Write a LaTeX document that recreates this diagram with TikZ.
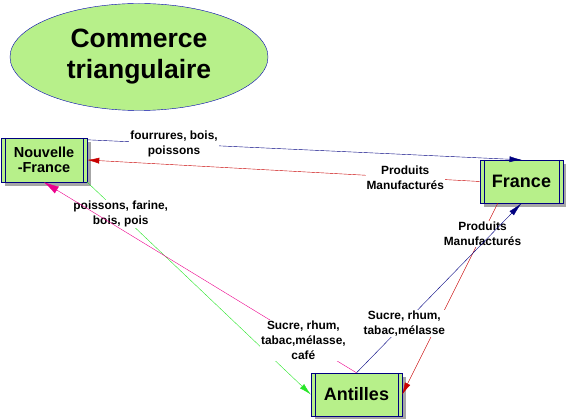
\documentclass[tikz,border=0pt]{standalone}
\usepackage{fontspec}
\setmainfont{Liberation Sans}
\usetikzlibrary{shapes.geometric,shadows,arrows.meta}
\definecolor{navy}{RGB}{0,0,128}
\definecolor{lgreen}{RGB}{183,240,138}
\definecolor{dred}{RGB}{200,0,0}
\definecolor{lgr}{RGB}{40,230,40}

\begin{document}
\begin{tikzpicture}[x=1pt,y=-1pt,
  box/.style={draw=navy, fill=lgreen, inner sep=0pt, align=center,
    drop shadow={shadow xshift=4pt, shadow yshift=-4pt, fill=gray!70, opacity=1},
    path picture={\draw[navy] ([xshift=4pt]path picture bounding box.north west)--([xshift=4pt]path picture bounding box.south west)
      ([xshift=-4pt]path picture bounding box.north east)--([xshift=-4pt]path picture bounding box.south east);}},
  lbl/.style={fill=white, text=black, inner sep=1pt, align=center, font=\fontsize{11.9}{15}\selectfont\bfseries},
  tip/.style={-{Latex[length=12pt,width=6pt]}}]
\useasboundingbox (0,0) rectangle (566,419);
\node[ellipse, draw=blue!70!black, fill=lgreen, minimum width=258, minimum height=107, inner sep=0pt, align=center,
  font=\fontsize{26.5}{31}\selectfont\bfseries] (title) at (139,57) {Commerce\\triangulaire};
\node[box, minimum width=86, minimum height=44, font=\fontsize{14.5}{15}\selectfont\bfseries] (nf) at (44,160) {Nouvelle\\-France};
\node[box, minimum width=83, minimum height=43, font=\fontsize{18}{20}\selectfont\bfseries] (fr) at (521.5,181.5) {France};
\node[box, minimum width=91, minimum height=43, font=\fontsize{18}{20}\selectfont\bfseries] (an) at (356.5,394.5) {Antilles};
% Nouvelle-France -> France
\draw[navy, tip] ([yshift=-2pt]nf.north east) -- node[lbl, pos=0.2] {fourrures, bois,\\poissons} (fr.north);
% France -> Nouvelle-France
\draw[dred, tip] (fr.west) -- node[lbl, pos=0.19] {Produits\\Manufacturés} (nf.east);
% France -> Antilles
\draw[dred, tip] ([xshift=18pt]fr.south west) -- node[lbl, pos=0.16] {Produits\\Manufacturés} (an.east);
% Antilles -> France
\draw[navy, -{Latex[length=14pt,width=6pt]}] (an.north) -- node[lbl, pos=0.29] {Sucre, rhum,\\tabac,mélasse} (fr.south);
% Nouvelle-France -> Antilles
\draw[lgr, tip] (nf.south east) -- node[lbl, pos=0.15] {poissons, farine,\\bois, pois} (an.west);
% Antilles -> Nouvelle-France
\draw[magenta, -{Latex[length=15pt,width=8pt]}] (an.north) -- node[lbl, pos=0.17] {Sucre, rhum,\\tabac,mélasse,\\café} (nf.south);
\end{tikzpicture}
\end{document}
